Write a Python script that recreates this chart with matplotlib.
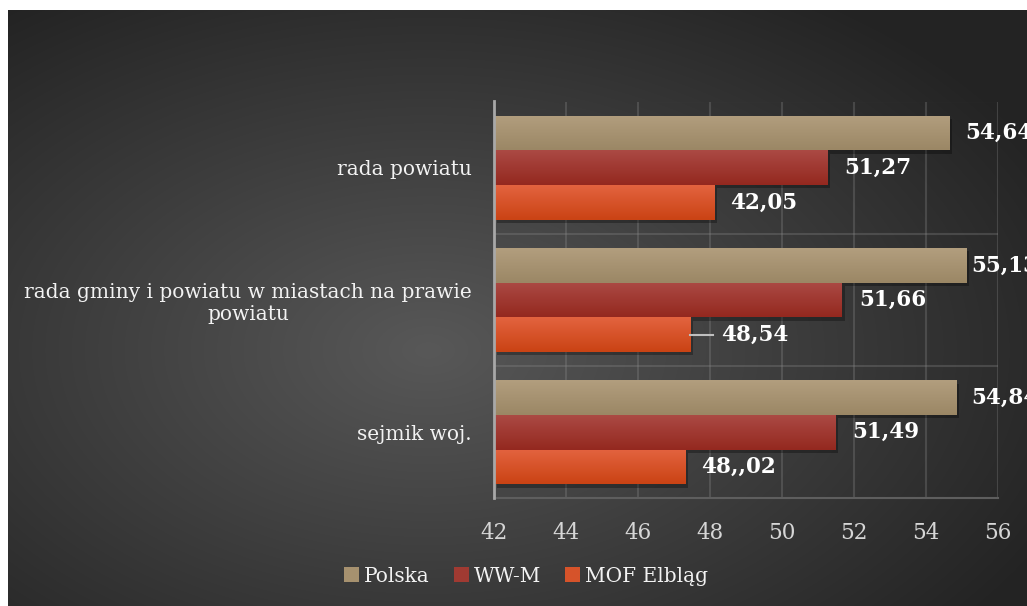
import numpy as np
import matplotlib
matplotlib.use("Agg")
import matplotlib.pyplot as plt
import matplotlib.patheffects as pe
from matplotlib.colors import to_rgb
from matplotlib.patches import Patch

plt.rcParams['font.family'] = ['DejaVu Serif']

# Data
categories = ['rada powiatu', 'rada gminy i powiatu w miastach na prawie\npowiatu', 'sejmik woj.']
series = ['Polska', 'WW-M', 'MOF Elbląg']
polska = [54.64, 55.13, 54.84]
wwm = [51.27, 51.66, 51.49]
mof = [48.12, 47.45, 47.31]
polska_labels = ['54,64', '55,13', '54,84']
wwm_labels = ['51,27', '51,66', '51,49']
mof_labels = ['42,05', '48,54', '48,,02']
xticks = [42, 44, 46, 48, 50, 52, 54, 56]

# gradient colours (top, bottom) for each series
grad = [('#b29e7e', '#9b8765'), ('#ab4a44', '#94281f'), ('#e3633f', '#ca4314')]
mid = ['#a6916f', '#a03a32', '#d6532a']

W, H = 1027, 606
fig = plt.figure(figsize=(W / 100, H / 100), dpi=100, facecolor='white')

# radial background
bg = fig.add_axes([8 / W, 0, 1 - 8 / W, 1 - 10 / H])
bg.set_axis_off()
yy, xx = np.mgrid[0:596, 0:1019]
r = np.sqrt(((xx - 420) / 700) ** 2 + ((yy - 340) / 430) ** 2)
shade = 0x58 / 255 + (0x23 / 255 - 0x58 / 255) * np.clip(r, 0, 1)
bg.imshow(np.dstack([shade] * 3), aspect='auto', interpolation='bilinear')

ax = fig.add_axes([494 / W, 1 - 498.4 / H, (998 - 494) / W, (498.4 - 101.5) / H])
ax.set_facecolor('none')

y = np.arange(len(categories))
h = 0.262
values = [polska, wwm, mof]
labels = [polska_labels, wwm_labels, mof_labels]
offs = [-h, 0, h]
# label distance from bar end, in pixels
label_offset_px = [[16, 5, 15], [17, 17, 17], [16, 31, 16]]

g = np.linspace(0, 1, 50)[:, None, None]
for i, (vals, labs) in enumerate(zip(values, labels)):
    bars = ax.barh(y + offs[i], np.array(vals) - 42, left=42, height=h,
                   color=mid[i], edgecolor='none', zorder=3,
                   path_effects=[pe.SimplePatchShadow(offset=(2, -2.5), shadow_rgbFace='black', alpha=0.3),
                                 pe.Normal()])
    c0 = np.array(to_rgb(grad[i][0]))
    c1 = np.array(to_rgb(grad[i][1]))
    img = np.repeat(c0 * (1 - g) + c1 * g, 2, axis=1)
    for b, lab, off in zip(bars, labs, label_offset_px[i]):
        x0, y0 = b.get_x(), b.get_y()
        xe = x0 + b.get_width()
        yc = y0 + b.get_height() / 2
        im = ax.imshow(img, extent=[x0, xe, y0 + b.get_height(), y0],
                       aspect='auto', zorder=4, interpolation='bilinear')
        im.set_clip_path(b)
        ax.annotate(lab, (xe, yc), xytext=(off * 0.72, 0), textcoords='offset points',
                    ha='left', va='center', color='white', fontsize=15.5,
                    fontweight='bold', annotation_clip=False, zorder=6)
        if off > 25:
            # leader line of the moved label
            ax.plot([xe, xe + 23 / 36], [yc, yc], color='#bfbfbf', lw=1.5, zorder=5)

ax.set_xlim(42, 56)
ax.set_ylim(2.5, -0.5)
ax.set_xticks(xticks)
ax.set_xticklabels([str(t) for t in xticks])
ax.set_yticks(y)
ax.set_yticklabels(categories)
for t in ax.get_yticklabels():
    t.set_multialignment('center')
ax.set_yticks([-0.5, 0.5, 1.5], minor=True)
ax.tick_params(axis='x', length=0, pad=17, labelsize=15.5, labelcolor='#d6d6d6')
ax.tick_params(axis='y', which='both', length=0, pad=16, labelsize=14.5, labelcolor='#f2f2f2')
ax.grid(axis='x', color='#8a8a8a', alpha=0.3, lw=1.5, zorder=0)
ax.grid(axis='y', which='minor', color='#8a8a8a', alpha=0.3, lw=1.5, zorder=0)
ax.grid(axis='y', which='major', visible=False)
for s in ['top', 'right']:
    ax.spines[s].set_visible(False)
ax.spines['left'].set_color('#a8a8a8')
ax.spines['left'].set_linewidth(2)
ax.spines['left'].set_zorder(7)
ax.spines['bottom'].set_color('#5e5e5e')
ax.spines['bottom'].set_linewidth(1.5)

handles = [Patch(facecolor=mid[i], edgecolor='none') for i in range(3)]
fig.legend(handles, series, loc='center', bbox_to_anchor=(526 / W, 1 - 576 / H), ncol=3,
           frameon=False, fontsize=14.5, handlelength=0.75, handleheight=0.75,
           handletextpad=0.25, columnspacing=1.2, labelcolor='#f2f2f2')

fig.savefig('out.png', dpi=100, facecolor='white')
